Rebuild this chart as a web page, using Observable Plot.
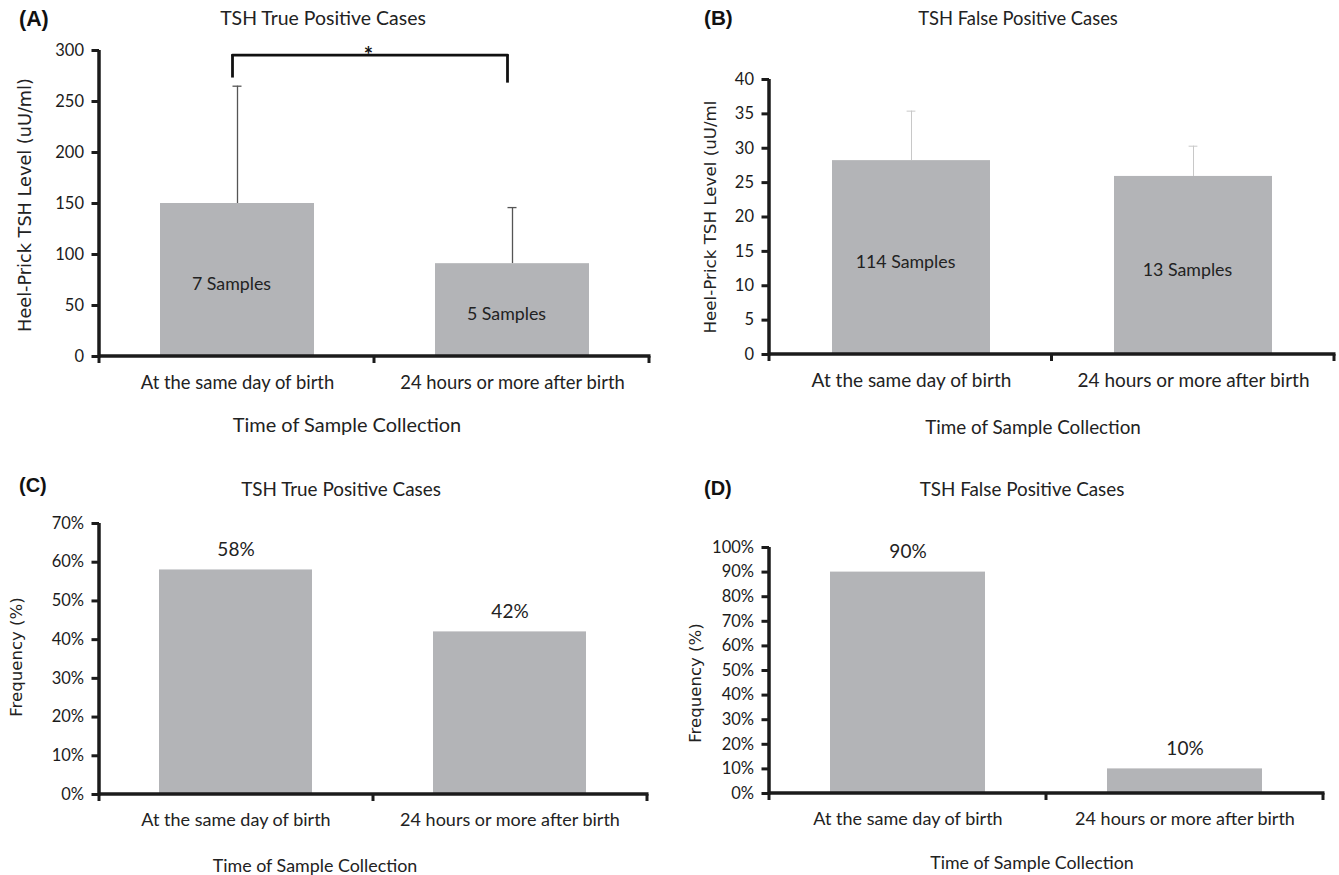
<!DOCTYPE html>
<html>
<head>
<meta charset="utf-8">
<script src="https://cdn.jsdelivr.net/npm/d3@7"></script>
<script src="https://cdn.jsdelivr.net/npm/@observablehq/plot@0.6"></script>
<style>
  body { margin: 0; background: #fff; }
  #root { position: relative; width: 1339px; height: 875px; overflow: hidden; font-family: Lato, "Open Sans", sans-serif; color: #222; }
  .abs { position: absolute; white-space: nowrap; line-height: 1; }
  .letter { font-family: "Liberation Sans", Arial, sans-serif; font-weight: bold; font-size: 20px; color: #111; transform: translateY(-50%); }
  .title { font-size: 17px; transform: translate(-50%, -50%); }
  .xtitle { font-size: 17px; transform: translate(-50%, -50%); }
  .ytitle { font-family: "DejaVu Sans", Verdana, sans-serif; font-size: 17px; transform: translate(-50%, -50%) rotate(-90deg); }
  svg.panel { position: absolute; overflow: visible; }
</style>
</head>
<body>
<div id="root"></div>
<script>
// ---------------- data ----------------
const categories = ["At the same day of birth", "24 hours or more after birth"];
const tshTrueMean = [150, 91];
const tshTrueUpper = [265, 146];
const tshTrueN = ["7 Samples", "5 Samples"];
const tshFalseMean = [28.2, 25.9];
const tshFalseUpper = [35.4, 30.3];
const tshFalseN = ["114 Samples", "13 Samples"];
const freqTrue = [58, 42];
const freqFalse = [90, 10];
const ticksA = [0, 50, 100, 150, 200, 250, 300];
const ticksB = [0, 5, 10, 15, 20, 25, 30, 35, 40];
const ticksC = [0, 10, 20, 30, 40, 50, 60, 70];
const ticksD = [0, 10, 20, 30, 40, 50, 60, 70, 80, 90, 100];
const sigLevel = 295.5;
const sigLegEnds = [273, 268];
const sigLabel = "*";
const panelLetters = ["(A)", "(B)", "(C)", "(D)"];
const panelTitles = ["TSH True Positive Cases", "TSH False Positive Cases", "TSH True Positive Cases", "TSH False Positive Cases"];
const xTitle = "Time of Sample Collection";
const yTitles = ["Heel-Prick TSH Level (uU/ml)", "Heel-Prick TSH Level (uU/ml", "Frequency (%)", "Frequency (%)"];

// ---------------- styling ----------------
const barColor = "#b3b4b7";
const axisColor = "#1b1b1b";
const textColor = "#222";
const PAD = 0.44;

const root = document.getElementById("root");

function axesFrame(index, scales, values, dims) {
  const { width, height, marginLeft: ml, marginRight: mr, marginTop: mt, marginBottom: mb } = dims;
  const x0 = ml, x1 = width - mr, yb = height - mb, xm = (x0 + x1) / 2;
  const g = d3.create("svg:g").attr("stroke", axisColor).attr("fill", "none");
  g.append("line").attr("x1", x0).attr("x2", x0).attr("y1", mt).attr("y2", yb + 1.5).attr("stroke-width", 3.5);
  g.append("line").attr("x1", x0).attr("x2", x1 + 1.5).attr("y1", yb).attr("y2", yb).attr("stroke-width", 3.5);
  for (const x of [x0, xm, x1]) {
    g.append("line").attr("x1", x).attr("x2", x).attr("y1", yb).attr("y2", yb + 7).attr("stroke-width", 3);
  }
  return g.node();
}

// place an HTML text and scale its font so that it spans the target width
function addText(cls, text, x, y, target) {
  const d = document.createElement("div");
  d.className = "abs " + cls;
  d.textContent = text;
  d.style.left = x + "px";
  d.style.top = y + "px";
  root.appendChild(d);
  if (target) {
    const fs = parseFloat(getComputedStyle(d).fontSize);
    const w = d.offsetWidth;
    if (w > 0) d.style.fontSize = (fs * target / w).toFixed(2) + "px";
  }
}

function panel(cfg) {
  const { left, top, width, height, ml, mr, mt, mb, domain, ticks, fmt, marks, idx, lay, xfs } = cfg;
  const bw = (width - ml - mr) / 2 * (1 - PAD);
  const svg = Plot.plot({
    width, height,
    marginLeft: ml, marginRight: mr, marginTop: mt, marginBottom: mb,
    style: { fontFamily: "Lato, 'Open Sans', sans-serif", color: textColor, background: "transparent", overflow: "visible" },
    x: { domain: categories, paddingInner: PAD, paddingOuter: PAD / 2, label: null },
    y: { domain, label: null },
    marks: [
      ...marks(bw),
      Plot.axisY({ ticks, tickFormat: fmt, tickSize: 7.5, tickPadding: 8, fontSize: 16.5, strokeWidth: 3, color: axisColor, label: null }),
      Plot.axisX({ tickSize: 0, tickPadding: 19, fontSize: xfs, color: textColor, label: null }),
      axesFrame
    ]
  });
  svg.classList.add("panel");
  svg.style.left = left + "px";
  svg.style.top = top + "px";
  root.appendChild(svg);
  addText("letter", panelLetters[idx], lay.letter[0], lay.letter[1], lay.letter[2]);
  addText("title", panelTitles[idx], lay.title[0], lay.title[1], lay.title[2]);
  addText("xtitle", xTitle, lay.xt[0], lay.xt[1], lay.xt[2]);
  addText("ytitle", yTitles[idx], lay.yt[0], lay.yt[1], lay.yt[2]);
}

function errorMarks(mean, upper, n, color, width) {
  const data = categories.map((c, i) => ({ cat: c, mean: mean[i], upper: upper[i], n: n[i] }));
  return (bw) => [
    Plot.ruleX(data, { x: "cat", y1: "mean", y2: "upper", stroke: color, strokeWidth: width }),
    Plot.tickY(data, { x: "cat", y: "upper", stroke: color, strokeWidth: width, insetLeft: (bw - 9) / 2, insetRight: (bw - 9) / 2 }),
    Plot.barY(data, { x: "cat", y: "mean", fill: barColor }),
    Plot.text(data, { x: "cat", y: d => d.mean / 2, text: "n", dy: 4.5, dx: -6, fontSize: 17.8, fill: textColor })
  ];
}

function freqMarks(values) {
  const data = categories.map((c, i) => ({ cat: c, value: values[i] }));
  return () => [
    Plot.barY(data, { x: "cat", y: "value", fill: barColor }),
    Plot.text(data, { x: "cat", y: "value", text: d => d.value + "%", dy: -20, fontSize: 19, fill: textColor })
  ];
}

// Panel A
const markA = errorMarks(tshTrueMean, tshTrueUpper, tshTrueN, "#555", 1.3);
panel({
  idx: 0, left: 0, top: 0, width: 670, height: 440, ml: 99, mr: 21, mt: 50, mb: 84,
  domain: [0, 300], ticks: ticksA, fmt: d => d, xfs: 18.4,
  marks: (bw) => [
    ...markA(bw),
    Plot.ruleX(categories.map((c, i) => ({ cat: c, end: sigLegEnds[i] })), { x: "cat", y1: sigLevel, y2: "end", stroke: "#111", strokeWidth: 2.8, dx: -5 }),
    Plot.line(categories.map(c => ({ cat: c, y: sigLevel })), { x: "cat", y: "y", stroke: "#111", strokeWidth: 2.8, dx: -5 }),
    Plot.text([{ label: sigLabel, y: sigLevel }], { text: "label", y: "y", frameAnchor: "middle", dx: -6, dy: 1, fontSize: 22, fontWeight: "bold", fill: "#111" })
  ],
  lay: { letter: [19, 20, 30], title: [323, 18, 206], xt: [347, 425, 229], yt: [26, 205, 254] }
});

// Panel B
panel({
  idx: 1, left: 670, top: 0, width: 669, height: 440, ml: 99, mr: 5, mt: 79, mb: 86,
  domain: [0, 40], ticks: ticksB, fmt: d => d, xfs: 19,
  marks: errorMarks(tshFalseMean, tshFalseUpper, tshFalseN, "#c8c8c8", 1),
  lay: { letter: [704, 18, 29], title: [1018, 18, 200], xt: [1033, 427, 216], yt: [710, 217, 233] }
});

// Panel C
panel({
  idx: 2, left: 0, top: 470, width: 670, height: 405, ml: 99, mr: 23, mt: 53, mb: 81,
  domain: [0, 70], ticks: ticksC, fmt: d => d + "%", xfs: 18,
  marks: freqMarks(freqTrue),
  lay: { letter: [19, 485, 28], title: [341, 489, 200], xt: [315, 866, 205], yt: [17, 657, 120] }
});

// Panel D
panel({
  idx: 3, left: 670, top: 470, width: 669, height: 405, ml: 99, mr: 16, mt: 77, mb: 82,
  domain: [0, 100], ticks: ticksD, fmt: d => d + "%", xfs: 18,
  marks: freqMarks(freqFalse),
  lay: { letter: [704, 488, 28], title: [1022, 489, 205], xt: [1032, 863, 204], yt: [696, 683, 120] }
});
</script>
</body>
</html>
